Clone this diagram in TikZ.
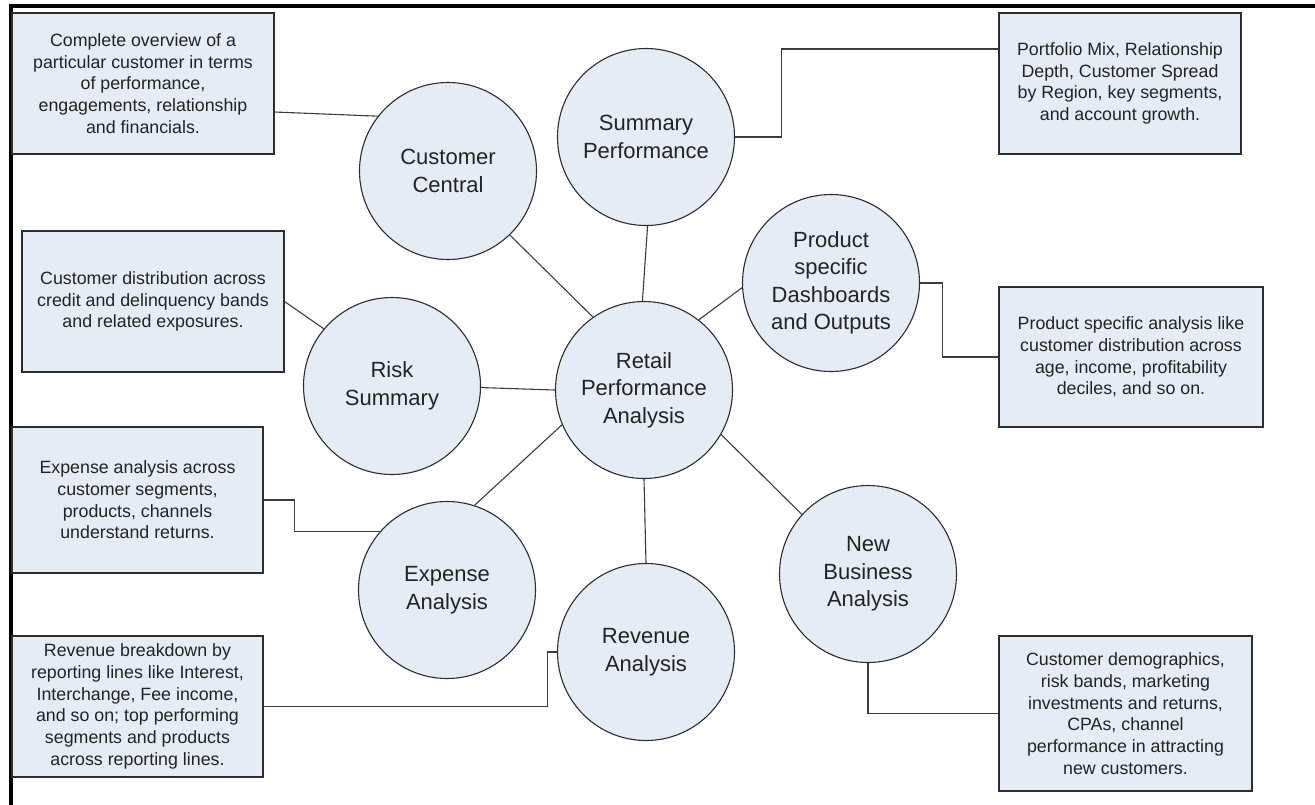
\documentclass[tikz,border=0pt]{standalone}
\usepackage{fontspec}
\setmainfont{Liberation Sans}
\usetikzlibrary{shadows}
\definecolor{shapefill}{RGB}{230,236,245}
\definecolor{edgecol}{RGB}{45,45,45}
\definecolor{linecol}{RGB}{60,60,60}
\definecolor{textcol}{RGB}{35,35,35}
\tikzset{
  circ/.style={circle, draw=edgecol, line width=1.1pt, fill=shapefill, minimum size=177pt, inner sep=0pt,
    align=center, text=textcol, font=\fontsize{22}{27.5}\selectfont},
  descbox/.style={rectangle, draw=edgecol, line width=1.1pt, fill=shapefill, inner sep=0pt,
    align=center, text=textcol, font=\fontsize{17.8}{21.7}\selectfont,
    drop shadow={shadow xshift=1.4pt, shadow yshift=-1.4pt, fill=black!65, opacity=1}},
  conn/.style={draw=linecol, line width=1.1pt},
  frameline/.style={draw=black, line width=4pt}
}
\begin{document}
\begin{tikzpicture}[x=1pt,y=-1pt]
\fill[white] (0,0) rectangle (1315,804);
\useasboundingbox (0,0) rectangle (1315,804);
\draw[frameline] (10.5,806) -- (10.5,6) -- (1317,6);

% hub and spokes
\node[circ] (rpa) at (644,390) {Retail\\Performance\\Analysis};
\node[circ] (cc)  at (448,171) {Customer\\Central};
\node[circ] (sp)  at (646,137) {Summary\\Performance};
\node[circ] (pd)  at (831,283) {Product\\specific\\Dashboards\\and Outputs};
\node[circ] (rs)  at (392,386) {Risk\\Summary};
\node[circ] (ea)  at (447,590) {Expense\\Analysis};
\node[circ] (ra)  at (646,652) {Revenue\\Analysis};
\node[circ] (nb)  at (868,574) {New\\Business\\Analysis};

% description boxes
\node[descbox, minimum width=262pt, minimum height=141pt] (b1) at (143,83.5)
  {Complete overview of a\\particular customer in terms\\of performance,\\engagements, relationship\\and financials.};
\node[descbox, minimum width=242pt, minimum height=141pt] (b2) at (1120,83.5)
  {Portfolio Mix, Relationship\\Depth, Customer Spread\\by Region, key segments,\\and account growth.};
\node[descbox, minimum width=262pt, minimum height=141pt] (b3) at (153,301.5)
  {Customer distribution across\\credit and delinquency bands\\and related exposures.};
\node[descbox, minimum width=264pt, minimum height=140pt] (b4) at (1131,357)
  {Product specific analysis like\\customer distribution across\\age, income, profitability\\deciles, and so on.};
\node[descbox, minimum width=251pt, minimum height=146pt] (b5) at (137.5,500)
  {Expense analysis across\\customer segments,\\products, channels\\understand returns.};
\node[descbox, minimum width=251pt, minimum height=141pt] (b6) at (137.5,706.5)
  {Revenue breakdown by\\reporting lines like Interest,\\Interchange, Fee income,\\and so on; top performing\\segments and products\\across reporting lines.};
\node[descbox, minimum width=253pt, minimum height=155pt] (b7) at (1125.5,713.5)
  {Customer demographics,\\risk bands, marketing\\investments and returns,\\CPAs, channel\\performance in attracting\\new customers.};

% spokes
\draw[conn] (cc.-46) -- (rpa.125);
\draw[conn] (sp.-89) -- (rpa.91);
\draw[conn] (pd.183) -- (rpa.52);
\draw[conn] (rs.-1) -- (rpa.180);
\draw[conn] (ea.72) -- (rpa.203);
\draw[conn] (ra.north) -- (rpa.south);
\draw[conn] (rpa.-30) -- (nb.138);

% description connectors
\draw[conn] ([yshift=-28.5pt]b1.east) -- (cc.142);
\draw[conn] (sp.east) -- ++(46,0) |- ([yshift=34.5pt]b2.west);
\draw[conn] (pd.east) -- ++(22,0) |- (b4.west);
\draw[conn] (b3.east) -- (rs.140);
\draw[conn] (b5.east) -- ++(31,0) |- (ea.139);
\draw[conn] (b6.east) -- ++(284,0) |- (ra.west);
\draw[conn] (nb.south) |- (b7.west);
\end{tikzpicture}
\end{document}
